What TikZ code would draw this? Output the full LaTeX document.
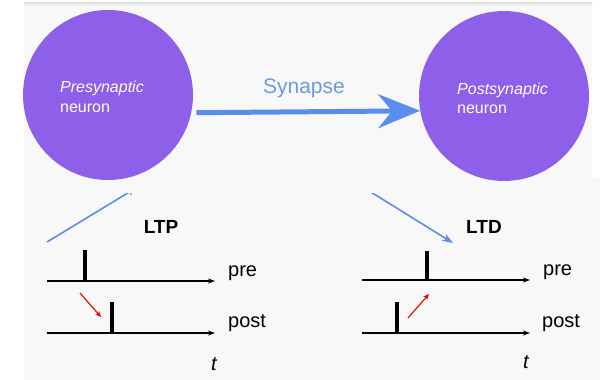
\documentclass[tikz,border=0pt]{standalone}
\usepackage{fontspec}
\setmainfont{Liberation Sans}
\usetikzlibrary{arrows.meta}
\definecolor{neuronc}{HTML}{8E5FE8}
\definecolor{sync}{HTML}{5B8DEE}
\definecolor{syntxt}{HTML}{6A9AE8}
\definecolor{bgc}{HTML}{F8F8F8}
\begin{document}
\begin{tikzpicture}[x=1pt,y=-1pt,
  neuron/.style={circle, fill=neuronc, minimum size=170pt, inner sep=0pt},
  ntext/.style={text=white, font=\fontsize{16}{20}\selectfont, anchor=base west, inner sep=0pt},
  syn/.style={sync, line width=5pt, -{Stealth[length=42pt,width=34pt,inset=14pt]}},
  diag/.style={sync, line width=1.6pt},
  axisl/.style={black, line width=1.3pt, -{Stealth[length=7pt,width=5pt]}},
  spike/.style={black, line width=4pt},
  redarr/.style={red!90!black, line width=1.1pt, -{Stealth[length=6pt,width=5pt]}},
  lbl/.style={font=\fontsize{20}{24}\selectfont, anchor=base west, inner sep=0pt},
  ttl/.style={font=\bfseries\fontsize{19}{23}\selectfont, anchor=base, inner sep=0pt}
]
\useasboundingbox (0,0) rectangle (600,380);
% backgrounds
\fill[white] (0,0) rectangle (600,380);
\fill[bgc] (24,178) rectangle (600,380);
\fill[bgc] (24,3) rectangle (592,178);
\shade[top color=gray!25, bottom color=bgc] (24,2) rectangle (592,6);

% neurons
\node[neuron] (pre) at (108,95) {};
\node[neuron] (post) at (504,96) {};
\node[ntext] (pret1) at (60,92) {\itshape Presynaptic};
\node[ntext] (pret2) at (60,112) {neuron};
\node[ntext] (postt1) at (457,94) {\itshape Postsynaptic};
\node[ntext] (postt2) at (457,113) {neuron};

% synapse
\node[text=syntxt, font=\fontsize{21}{25}\selectfont, anchor=base, inner sep=0pt] (synl) at (304,93) {Synapse};
\draw[syn] ([xshift=5pt]pre.-12) -- (post.190);

% diagonal arrows
\coordinate (dla) at (47,242);
\coordinate (dlb) at (136,188);
\coordinate (dra) at (366,189);
\coordinate (drb) at (453,243);
\begin{scope}
\clip (0,193) rectangle (600,380);
\draw[diag, -{Stealth[length=9pt,width=7pt]}] (dla) -- (dlb);
\draw[diag, -{Stealth[length=11pt,width=8pt]}] (dra) -- (drb);
\end{scope}

% LTP
\node[ttl] (ltp) at (161,233) {LTP};
\coordinate (lpa) at (47,281);
\coordinate (lpb) at (215,281);
\coordinate (lqa) at (47,333);
\coordinate (lqb) at (215,333);
\draw[axisl] (lpa) -- (lpb);
\draw[axisl] (lqa) -- (lqb);
\draw[spike] (85,250) -- (85,281);
\draw[spike] (112,302) -- (112,333);
\coordinate (lra) at (80,293);
\coordinate (lrb) at (101,317);
\draw[redarr] (lra) -- (lrb);
\node[lbl] (lpre) at (228,276) {pre};
\node[lbl] (lpost) at (228,327) {post};
\node[lbl] (lt) at (211,370) {\itshape t};

% LTD
\node[ttl] (ltd) at (484,233) {LTD};
\coordinate (dpa) at (362,280);
\coordinate (dpb) at (530,280);
\coordinate (dqa) at (362,333);
\coordinate (dqb) at (530,333);
\draw[axisl] (dpa) -- (dpb);
\draw[axisl] (dqa) -- (dqb);
\draw[spike] (427,251) -- (427,280);
\draw[spike] (397,302) -- (397,333);
\coordinate (dra2) at (408,318);
\coordinate (drb2) at (429,294);
\draw[redarr] (dra2) -- (drb2);
\node[lbl] (dpre) at (543,275) {pre};
\node[lbl] (dpost) at (542,327) {post};
\node[lbl] (dt) at (523,368) {\itshape t};
\end{tikzpicture}
\end{document}
